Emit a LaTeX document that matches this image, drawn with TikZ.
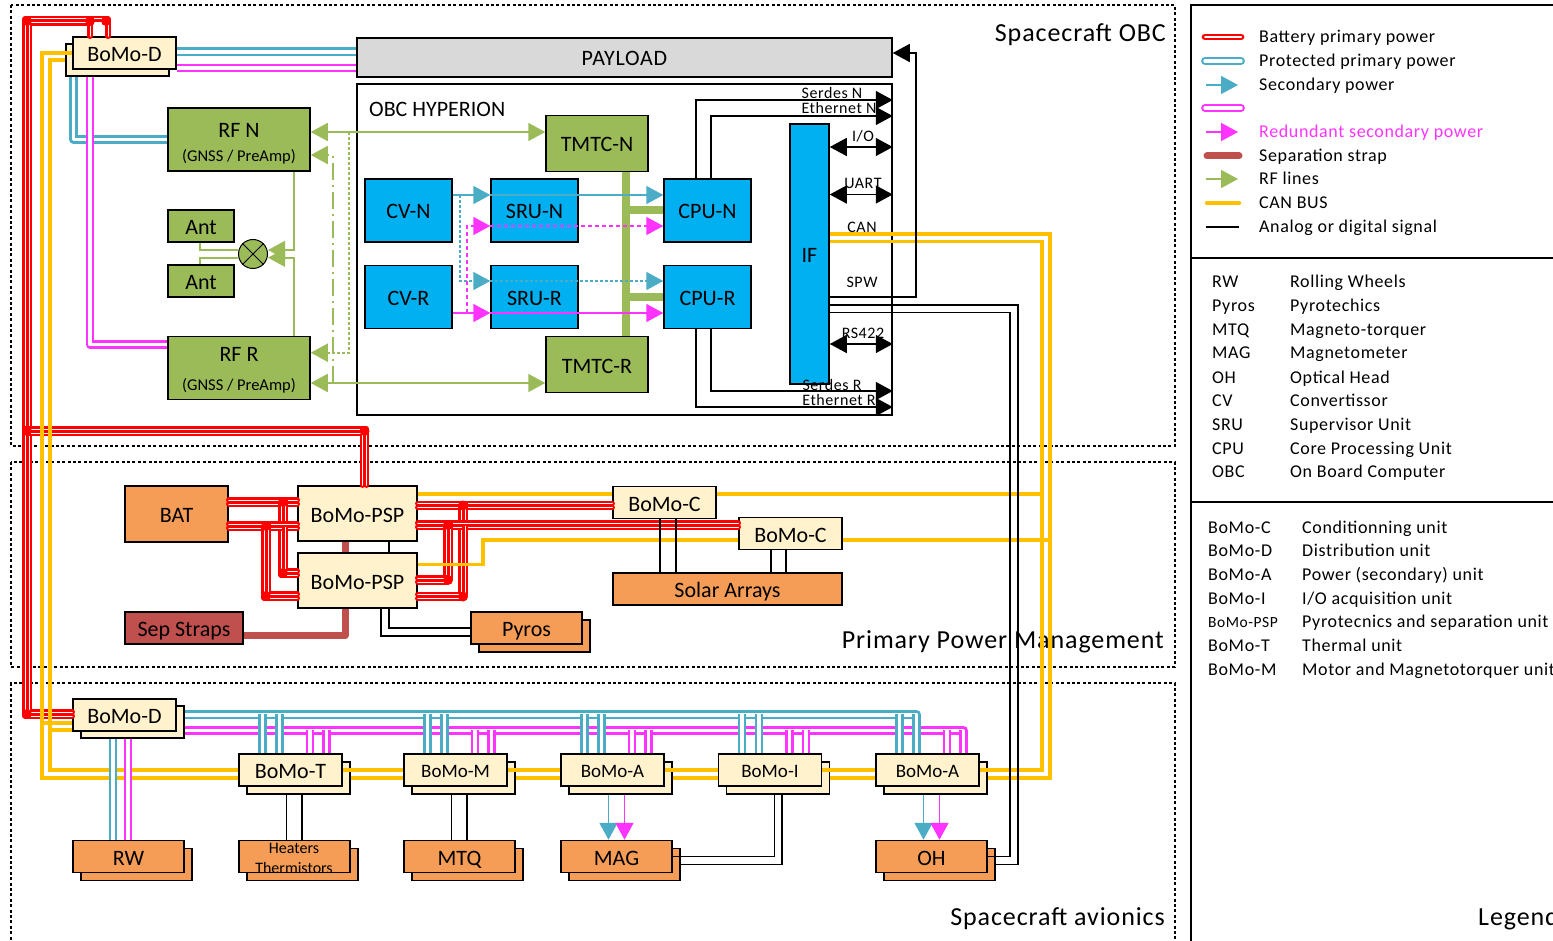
\documentclass[tikz,border=0pt]{standalone}
\usepackage{fontspec}
\setmainfont{Carlito}
\newfontfamily\spacedfont[LetterSpace=3.5]{Carlito}
\usetikzlibrary{arrows.meta}
\definecolor{rfgreen}{HTML}{9BBB59}
\definecolor{cpublue}{HTML}{00B0F0}
\definecolor{loadorange}{HTML}{F59D56}
\definecolor{cream}{HTML}{FFF2CC}
\definecolor{protblue}{HTML}{4BACC6}
\definecolor{redundant}{HTML}{FF33FF}
\definecolor{canyellow}{HTML}{FFC000}
\definecolor{strapred}{HTML}{C0504D}
\tikzset{
    boxed/.style={draw, line width=1.5pt, inner sep=0pt, text height=20pt, text depth=3pt, font=\fontsize{22}{25}\selectfont},
    bomo/.style={boxed, fill=cream, minimum width=103pt, minimum height=32pt},
    bomosmall/.style={text height=18pt, font=\fontsize{19}{22}\selectfont},
    loadbox/.style={boxed, fill=loadorange, minimum width=111pt, minimum height=32pt},
    cpubox/.style={boxed, fill=cpublue, minimum width=87pt, minimum height=63pt},
    tmtc/.style={boxed, fill=rfgreen, minimum width=102pt, minimum height=56pt},
    rfbox/.style={draw, line width=1.5pt, inner sep=0pt, font=\fontsize{22}{25}\selectfont, fill=rfgreen, minimum width=142pt, minimum height=63pt, align=center},
    ant/.style={boxed, fill=rfgreen, minimum width=66pt, minimum height=32pt},
    frame/.style={draw, line width=1.5pt, dash pattern=on 3pt off 2.4pt},
    title/.style={inner sep=0pt, anchor=east, font=\spacedfont\fontsize{26}{29}\selectfont},
    portlabel/.style={inner sep=0pt, font=\spacedfont\fontsize{16}{17}\selectfont},
    legtext/.style={inner sep=0pt, anchor=west, text height=13pt, text depth=1pt, font=\spacedfont\fontsize{18}{20}\selectfont},
    redline/.style={draw=red, double=white, line width=2.2pt, double distance=1pt, line join=round, line cap=round},
    blueline/.style={draw=protblue, double=white, line width=2.6pt, double distance=3.6pt, line join=round},
    magline/.style={draw=redundant, double=white, line width=2.6pt, double distance=3.6pt, line join=round},
    canline/.style={draw=canyellow, line width=3.6pt},
    strap/.style={draw=strapred, line width=7pt, line join=round},
    rfline/.style={draw=rfgreen, line width=1.8pt},
    bluewire/.style={draw=protblue, line width=1.8pt},
    magwire/.style={draw=redundant, line width=1.8pt},
    sig/.style={draw=black, line width=1.5pt},
    spotted/.style={dash pattern=on 2.6pt off 2.4pt},
    spaced dash/.style={dash pattern=on 4pt off 3pt},
    longdot/.style={dash pattern=on 17pt off 5pt on 2pt off 5pt}
}
\begin{document}
\begin{tikzpicture}[x=1pt, y=-1pt, >={Triangle[length=17pt,width=18pt]}]
    \useasboundingbox (0,0) rectangle (1553,941);
    \draw[frame] (11,5) rectangle (1175,446);
    \draw[frame] (11,462) rectangle (1175,667);
    \draw[frame] (11,945) -- (11,683) -- (1175,683) -- (1175,945);
    \node[title] (titleobc) at (1166,35) {Spacecraft OBC};
    \node[title] (titlepower) at (1164,642) {Primary Power Management};
    \node[title] (titleavionics) at (1165,919) {Spacecraft avionics};

    \node[boxed, fill=black!15, minimum width=535pt, minimum height=39pt] (payload) at (624.5,57.5) {\spacedfont PAYLOAD};
    \node[boxed, minimum width=535pt, minimum height=331pt] (obc) at (624.5,249.5) {};
    \node[inner sep=0pt, anchor=west, font=\fontsize{22}{25}\selectfont] (obclabel) at (369,109) {OBC HYPERION};
    \node[bomo] (bomoDtopb) at (117.5,60) {};
    \node[bomo] (bomoDtop) at (124.5,53) {BoMo-D};
    \node[rfbox] (rfN) at (239,139.5) {\rule{0pt}{22pt}RF N\\[-1pt]{\fontsize{16.5}{18}\selectfont (GNSS / PreAmp)}};
    \node[rfbox] (rfR) at (239,368) {\rule{0pt}{19pt}RF R\\[4pt]{\fontsize{16.5}{18}\selectfont (GNSS / PreAmp)}};
    \node[ant] (antA) at (201,226) {Ant};
    \node[ant] (antB) at (201,281) {Ant};
    \node[circle, draw, line width=1pt, fill=rfgreen, minimum size=29pt, inner sep=0pt] (mixer) at (253,254) {};
    \draw[line width=1pt] (mixer.45) -- (mixer.225) (mixer.135) -- (mixer.315);
    \node[tmtc] (tmtcN) at (597,143.5) {TMTC-N};
    \node[tmtc] (tmtcR) at (597,364.5) {TMTC-R};
    \node[cpubox] (cvN) at (408.5,210.5) {CV-N};
    \node[cpubox] (cvR) at (408.5,297) {CV-R};
    \node[cpubox] (sruN) at (534.5,210.5) {SRU-N};
    \node[cpubox] (sruR) at (534.5,297) {SRU-R};
    \node[cpubox] (cpuN) at (707.5,210.5) {CPU-N};
    \node[cpubox] (cpuR) at (707.5,297) {CPU-R};
    \node[boxed, fill=cpublue, minimum width=39pt, minimum height=260pt] (ifbox) at (809.5,254) {IF};

    \node[boxed, fill=loadorange, minimum width=103pt, minimum height=56pt] (bat) at (176.5,514) {BAT};
    \node[bomo, minimum width=119pt, minimum height=55pt] (pspA) at (357.5,513.5) {BoMo-PSP};
    \node[bomo, minimum width=119pt, minimum height=55pt] (pspB) at (357.5,580.5) {BoMo-PSP};
    \node[bomo] (bomoCa) at (664.5,502.5) {BoMo-C};
    \node[bomo] (bomoCb) at (790.5,533.5) {BoMo-C};
    \node[loadbox, minimum width=229pt] (solar) at (727.5,589) {Solar Arrays};
    \node[boxed, fill=strapred, minimum width=118pt, minimum height=32pt] (sepstraps) at (184,628) {Sep Straps};
    \node[loadbox] (pyrosb) at (534.5,636) {};
    \node[loadbox] (pyros) at (526.5,628) {Pyros};

    \node[bomo] (bomoDb) at (132.5,722) {};
    \node[bomo] (bomoD) at (124.5,715) {BoMo-D};
    \foreach \n/\x/\s/\t in {bomoT/290.5/boxed/BoMo-T, bomoM/455.5/bomosmall/BoMo-M, bomoAa/612.5/bomosmall/BoMo-A, bomoI/770/bomosmall/BoMo-I, bomoAb/927.5/bomosmall/BoMo-A} {
        \node[bomo] (\n b) at (\x+8,778) {};
        \node[bomo,\s] (\n) at (\x,770) {\t};
    }
    \foreach \n/\x/\t in {rw/128.5/RW, heaters/294.5/, mtq/459.5/MTQ, mag/616.5/MAG, oh/931.5/OH} {
        \node[loadbox] (\n b) at (\x+8,864.5) {};
        \node[loadbox] (\n) at (\x,856.5) {\t};
    }
    \node[inner sep=0pt, font=\fontsize{16}{17}\selectfont] (heatersA) at (294,848) {Heaters};
    \node[inner sep=0pt, font=\fontsize{16}{17}\selectfont] (heatersB) at (294,868) {Thermistors};

    \foreach \d in {-2,2} {
        \draw[redline] ([yshift=12+\d]bat.east) -- ([yshift=11.5+\d]pspA.west);
        \draw[redline] (283+\d,500) -- (283+\d,573-\d) -- ([yshift=7.5+\d]pspB.west);
        \draw[redline] ([yshift=-12+\d]bat.east) -- ([yshift=-12.5+\d]pspA.west);
        \draw[redline] (266+\d,524) -- (266+\d,596-\d) -- ([yshift=-15.5+\d]pspB.west);
        \draw[redline] ([yshift=8+\d]pspA.east) -- ([yshift=-3+\d]bomoCa.west);
        \draw[redline] (463+\d,503.5) -- (463+\d,596.5-\d) -- ([yshift=-16+\d]pspB.east);
        \draw[redline] ([yshift=-11.5+\d]pspA.east) -- ([yshift=8.5+\d]bomoCb.west);
        \draw[redline] (448+\d,523) -- (448+\d,580-\d) -- ([yshift=.5+\d]pspB.east);
    }
    \draw[redline] ([xshift=-34.5pt]bomoDtop.north) -- (90,23) -- (29,23) -- (29,712) -- ([yshift=3pt]bomoD.west);
    \draw[redline] ([xshift=-16.5pt]bomoDtop.north) -- (108,19) -- (25,19) -- (25,716) -- ([yshift=-1pt]bomoD.west);
    \draw[redline] ([xshift=9pt]pspA.north) -- (366.5,429) -- (25,429);
    \draw[redline] ([xshift=5pt]pspA.north) -- (362.5,433) -- (29,433);
    \foreach \x/\y in {27/21, 106/21, 90/21, 364.5/431, 27/431, 27/714, 283/502, 283/573, 266/526, 266/596, 463/505.5, 463/596.5, 448/525, 448/580} {
        \fill[red] (\x,\y) circle (5pt);
    }

    \draw[canline] (bomoDtop.west) -- (42,53) -- (42,778) -- ([yshift=-8pt]bomoT.west);
    \draw[canline] (bomoDtopb.west) -- (50,60) -- (50,770) -- (bomoT.west);
    \draw[canline] (42,722.7) -- ([yshift=-7.7pt]bomoD.west);
    \draw[canline] (50,730) -- ([yshift=-15pt]bomoD.west);
    \foreach \a/\b in {bomoT/bomoM, bomoM/bomoAa, bomoAa/bomoI, bomoI/bomoAb} {
        \draw[canline] (\a.east) -- (\b.west);
        \draw[canline] (\a b.east) -- ([yshift=-8pt]\b.west);
    }
    \draw[canline] ([yshift=20pt]ifbox.east) -- (1050,234) -- (1050,778) -- (bomoAbb.east);
    \draw[canline] ([yshift=12.5pt]ifbox.east) -- (1042,241.5) -- (1042,770) -- (bomoAb.east);
    \draw[canline] ([yshift=19.5pt]pspA.east) -- ([yshift=8.5pt]bomoCa.west);
    \draw[canline] ([yshift=8.5pt]bomoCa.east) -- (1042,494);
    \draw[canline] ([yshift=16pt]pspB.east) -- (483,564.5) -- (483,540) -- ([yshift=-6.5pt]bomoCb.west);
    \draw[canline] ([yshift=-6.5pt]bomoCb.east) -- (1050,540);

    \draw[blueline] ([yshift=1.2pt]bomoDtop.east) -- ([yshift=5.7pt]payload.west);
    \draw[magline] ([yshift=-15pt]bomoDtop.east) -- ([yshift=-10.5pt]payload.west);
    \draw[blueline] ([xshift=-44pt]bomoDtopb.south) -- (73.5,139.5) -- (rfN.west);
    \draw[magline] ([xshift=-27.5pt]bomoDtopb.south) -- (90,344.5) -- ([yshift=23.5pt]rfR.west);
    \draw[blueline] ([yshift=7.3pt]bomoDb.east) -- (916.5,714.7) -- ([xshift=-11pt]bomoAb.north);
    \draw[magline] ([yshift=-8.3pt]bomoDb.east) -- (963.5,730.3) -- ([xshift=36pt]bomoAb.north);
    \foreach \n in {bomoT, bomoM, bomoAa, bomoI, bomoAb} {
        \draw[blueline] ([xshift=-28pt]\n.north) -- ++(0,-39.3);
        \draw[blueline] ([xshift=-11pt]\n.north) -- ++(0,-39.3);
        \draw[magline] ([xshift=19.5pt]\n.north) -- ++(0,-23.7);
        \draw[magline] ([xshift=36pt]\n.north) -- ++(0,-23.7);
    }
    \draw[blueline] ([xshift=-19.5pt]bomoDb.south) -- ([xshift=-15.5pt]rw.north);
    \draw[magline] ([xshift=-4.5pt]bomoDb.south) -- ([xshift=-0.5pt]rw.north);

    \draw[sig] ([xshift=-12pt]bomoTb.south) -- ([xshift=-8pt]heaters.north);
    \draw[sig] ([xshift=3.5pt]bomoTb.south) -- ([xshift=7.5pt]heaters.north);
    \draw[sig] ([xshift=-12pt]bomoMb.south) -- ([xshift=-8pt]mtq.north);
    \draw[sig] ([xshift=3.5pt]bomoMb.south) -- ([xshift=7.5pt]mtq.north);
    \draw[bluewire,->] ([xshift=-12pt]bomoAab.south) -- ([xshift=-8pt]mag.north);
    \draw[magwire,->] ([xshift=4pt]bomoAab.south) -- ([xshift=8pt]mag.north);
    \draw[bluewire,->] ([xshift=-12pt]bomoAbb.south) -- ([xshift=-8pt]oh.north);
    \draw[magwire,->] ([xshift=4pt]bomoAbb.south) -- ([xshift=8pt]oh.north);
    \draw[sig] (mag.east) -| ([xshift=-3.5pt]bomoIb.south);
    \draw[sig] (magb.east) -| ([xshift=4pt]bomoIb.south);

    \draw[strap] ([xshift=-12.5pt]pspA.south) -- ([xshift=-12.5pt]pspB.north);
    \draw[strap] ([yshift=-7.5pt]sepstraps.east) -- (345,635.5) -- ([xshift=-12.5pt]pspB.south);
    \draw[sig] ([xshift=31.5pt]pspA.south) -- ([xshift=31.5pt]pspB.north);
    \draw[sig] ([xshift=31.5pt]pspB.south) |- (pyros.west);
    \draw[sig] ([xshift=23.5pt]pspB.south) |- ([yshift=-8pt]pyros.west);
    \draw[sig] ([xshift=-4.5pt]bomoCa.south) -- ([xshift=-67.5pt]solar.north);
    \draw[sig] ([xshift=11.5pt]bomoCa.south) -- ([xshift=-51.5pt]solar.north);
    \draw[sig] ([xshift=-19.5pt]bomoCb.south) -- ([xshift=43.5pt]solar.north);
    \draw[sig] ([xshift=-4.5pt]bomoCb.south) -- ([xshift=58.5pt]solar.north);

    \draw[rfline] ([xshift=-1pt]antA.south) |- ([yshift=4pt]mixer.west);
    \draw[rfline] ([xshift=-1pt]antB.north) |- ([yshift=-3.7pt]mixer.west);
    \draw[rfline,->] ([xshift=55pt]rfN.south) |- ([yshift=4pt]mixer.east);
    \draw[rfline,->] ([xshift=55pt]rfR.north) |- ([yshift=-3.7pt]mixer.east);
    \draw[rfline,<->] ([yshift=7.5pt]rfN.east) -- ([yshift=11.5pt]tmtcN.west);
    \draw[rfline,<->] ([yshift=-15pt]rfR.east) -- ([yshift=-18.5pt]tmtcR.west);
    \coordinate (rfNtap) at (349,132);
    \coordinate (rfRtap) at (333,383);
    \draw[rfline,spotted,->] (rfNtap) |- ([yshift=15.3pt]rfR.east);
    \draw[rfline,longdot,->] (rfRtap) |- ([yshift=-15.5pt]rfN.east);

    \draw[rfline,line width=8pt] ([xshift=29pt]tmtcN.south) -- ([xshift=29pt]tmtcR.north);
    \draw[rfline,line width=8pt] ([xshift=29pt]tmtcN.south) |- (cpuN.west);
    \draw[rfline,line width=8pt] ([xshift=29pt]tmtcR.north) |- (cpuR.west);

    \draw[bluewire,->] ([yshift=15.5pt]cvN.east) -- ([yshift=15.5pt]sruN.west);
    \draw[bluewire,->] ([yshift=15.5pt]sruN.west) -- ([yshift=15.5pt]cpuN.west);
    \draw[magwire,->] ([yshift=-16pt]cvR.east) -- ([yshift=-16pt]sruR.west);
    \draw[magwire,->] ([yshift=-16pt]sruR.west) -- ([yshift=-16pt]cpuR.west);
    \coordinate (cvNtap) at (460,195);
    \coordinate (cvRtap) at (467,313);
    \draw[bluewire,spotted,->] (cvNtap) |- ([yshift=16pt]sruR.west);
    \draw[bluewire,spotted,->] ([yshift=16pt]sruR.west) -- ([yshift=16pt]cpuR.west);
    \draw[magwire,spaced dash,->] (cvRtap) |- ([yshift=-15.5pt]sruN.west);
    \draw[magwire,spaced dash,->] ([yshift=-15.5pt]sruN.west) -- ([yshift=-15.5pt]cpuN.west);

    \draw[sig,->] ([xshift=-11.5pt]cpuN.north) |- ([yshift=149.5pt]obc.east);
    \draw[sig,->] ([xshift=3.5pt]cpuN.north) |- ([yshift=133.5pt]obc.east);
    \draw[sig,->] ([xshift=-11.5pt]cpuR.south) |- ([yshift=-157.5pt]obc.east);
    \draw[sig,->] ([xshift=3.5pt]cpuR.south) |- ([yshift=-141.5pt]obc.east);
    \draw[sig,<->] ([yshift=107pt]ifbox.east) -- ([yshift=102.5pt]obc.east);
    \draw[sig,<->] ([yshift=59.5pt]ifbox.east) -- ([yshift=55pt]obc.east);
    \draw[sig,<->] ([yshift=-90pt]ifbox.east) -- ([yshift=-94.5pt]obc.east);
    \draw[sig,->] ([yshift=-43pt]ifbox.east) -- (916,297) -- (916,53) -- ([yshift=4.5pt]payload.east);
    \draw[sig] ([yshift=-51pt]ifbox.east) -- (1018,305) -- (1018,864.5) -- (ohb.east);
    \draw[sig] ([yshift=-58.7pt]ifbox.east) -- (1010,312.7) -- (1010,856.5) -- (oh.east);

    \node[portlabel] (serdesN) at (832,93) {Serdes N};
    \node[portlabel] (ethN) at (839,108) {Ethernet N};
    \node[portlabel] (io) at (863,136) {I/O};
    \node[portlabel] (uart) at (863,183) {UART};
    \node[portlabel] (can) at (862,227) {CAN};
    \node[portlabel] (spw) at (862,282) {SPW};
    \node[portlabel] (rsline) at (863,333) {RS422};
    \node[portlabel] (serdesR) at (832,385) {Serdes R};
    \node[portlabel] (ethR) at (839,400) {Ethernet R};

    \draw[line width=1.5pt] (1558,5) -- (1191,5) -- (1191,945);
    \draw[line width=1.5pt] (1191,258) -- (1558,258);
    \draw[line width=1.5pt] (1191,502) -- (1558,502);
    \node[legtext] (lgbat) at (1259,37) {Battery primary power};
    \node[legtext] (lgprot) at (1259,61) {Protected primary power};
    \node[legtext] (lgsec) at (1259,85) {Secondary power};
    \coordinate (lgred) at (1259,108);
    \node[legtext, text=redundant] (lgredsec) at (1259,132) {Redundant secondary power};
    \node[legtext] (lgstrap) at (1259,156) {Separation strap};
    \node[legtext] (lgrf) at (1259,179) {RF lines};
    \node[legtext] (lgcan) at (1259,203) {CAN BUS};
    \node[legtext] (lgsig) at (1259,227) {Analog or digital signal};
    \draw[redline,line width=2.4pt,double distance=2pt,line cap=round] ([xshift=-54pt]lgbat.west) -- ([xshift=-18pt]lgbat.west);
    \draw[blueline,line width=2.2pt,double distance=3.4pt,line cap=round] ([xshift=-54pt]lgprot.west) -- ([xshift=-18pt]lgprot.west);
    \draw[bluewire,->] ([xshift=-53pt]lgsec.west) -- ([xshift=-21pt]lgsec.west);
    \draw[magline,line width=2.2pt,double distance=3.4pt,line cap=round] ([xshift=-54pt]lgred) -- ([xshift=-18pt]lgred);
    \draw[magwire,->] ([xshift=-53pt]lgredsec.west) -- ([xshift=-21pt]lgredsec.west);
    \draw[strap,line cap=round] ([xshift=-52pt]lgstrap.west) -- ([xshift=-20pt]lgstrap.west);
    \draw[rfline,->] ([xshift=-53pt]lgrf.west) -- ([xshift=-21pt]lgrf.west);
    \draw[canline,line width=4.5pt,line cap=round] ([xshift=-52pt]lgcan.west) -- ([xshift=-20pt]lgcan.west);
    \draw[sig] ([xshift=-53pt]lgsig.west) -- ([xshift=-20pt]lgsig.west);

    \foreach \y/\a/\d in {282/RW/Rolling Wheels, 306/Pyros/Pyrotechics, 329/MTQ/Magneto-torquer, 353/MAG/Magnetometer, 377/OH/Optical Head, 400/CV/Convertissor, 424/SRU/Supervisor Unit, 448/CPU/Core Processing Unit, 471/OBC/On Board Computer} {
        \node[legtext] (abbr\y) at (1212,\y) {\a};
        \node[legtext] (desc\y) at (1290,\y) {\d};
    }
    \foreach \y/\a/\d in {527/BoMo-C/Conditionning unit, 550/BoMo-D/Distribution unit, 574/BoMo-A/Power (secondary) unit, 598/BoMo-I/{I/O acquisition unit}, 621/{\fontsize{15.5}{17}\selectfont BoMo-PSP}/Pyrotecnics and separation unit, 645/BoMo-T/Thermal unit, 669/BoMo-M/Motor and Magnetotorquer unit} {
        \node[legtext] (abbr\y) at (1208,\y) {\a};
        \node[legtext] (desc\y) at (1302,\y) {\d};
    }
    \node[title, anchor=west] (titlelegend) at (1478,919) {Legend};
\end{tikzpicture}
\end{document}
